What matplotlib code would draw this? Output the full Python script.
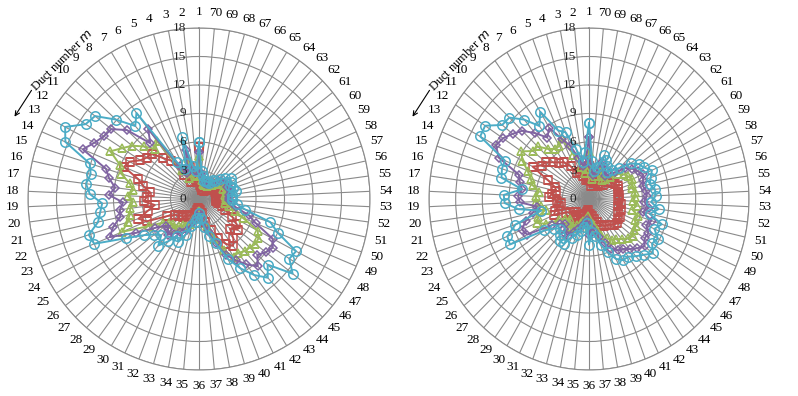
import numpy as np
import matplotlib
matplotlib.use("Agg")
import matplotlib.pyplot as plt

plt.rcParams['font.family'] = ['Liberation Serif', 'DejaVu Serif']

# duct numbers 1..70, values for four cases per chart
ducts = list(range(1, 71))
r_ticks = [0, 3, 6, 9, 12, 15, 18]

red_l = [5.5, 2, 2, 3.5, 2.5, 2, 3, 5.0, 5.7, 6.9, 7.0, 7.4, 8.3, 8.6, 6.7, 6.0, 5.2, 5.5, 5.8, 4.7,
         5.5, 6.7, 6.0, 3.8, 3.0, 2.8, 2.5, 2.5, 2.2, 2.0, 2.0, 1.8, 1.5, 1.2, 1.0, 1.0, 1.2, 1.5, 2.5, 3.5,
         4.6, 5.5, 6.1, 5.5, 4.5, 5.2, 4.7, 4.0, 3.0, 2.5, 2.0, 1.8, 1.8, 1.8, 1.8, 2.0, 2.0, 1.8, 2.0, 2.0,
         1.8, 1.5, 1.3, 1.3, 1.0, 1.0, 1.0, 1.0, 1.3, 1.5]
green_l = [4.5, 2.5, 2.5, 4.5, 3, 2.5, 3.5, 7.6, 7.0, 8.0, 9.0, 9.7, 10.6, 9.0, 8.6, 7.5, 7.0, 7.5, 7.0, 7.3,
           7.5, 7.9, 8.8, 6.0, 4.5, 4.0, 3.8, 4.0, 3.5, 3.2, 3.2, 2.8, 2.2, 1.8, 1.5, 1.3, 1.5, 2.0, 3.0, 4.5,
           6.0, 7.1, 7.0, 7.3, 7.4, 7.6, 7.5, 7.0, 5.0, 4.0, 3.2, 2.8, 2.8, 2.8, 2.8, 3.0, 3.0, 2.8, 3.0, 3.0,
           2.6, 2.4, 2.0, 2.0, 1.6, 1.6, 1.6, 1.6, 2.0, 2.4]
purple_l = [5, 3, 3, 5.3, 3.5, 3, 4, 9.1, 7.8, 10.5, 11.8, 12.0, 12.5, 13.3, 10.3, 9.7, 8.9, 9.5, 8.0, 8.4,
            8.5, 9.5, 10.2, 7.5, 5.5, 4.5, 4.5, 5.0, 4.5, 4.0, 4.0, 3.5, 2.5, 2.0, 1.8, 1.5, 1.8, 2.5, 3.5, 5.0,
            6.5, 7.5, 8.5, 9.4, 8.5, 9.0, 9.3, 8.8, 6.5, 5.5, 4.0, 3.5, 3.2, 3.2, 3.2, 3.5, 3.5, 3.2, 3.5, 3.5,
            3.0, 2.8, 2.2, 2.2, 1.8, 1.8, 1.8, 1.8, 2.2, 2.8]
cyan_l = [6, 3, 3.5, 6.8, 4, 3.5, 4.5, 11.2, 10.2, 12.1, 14.0, 14.3, 16.0, 15.3, 12.1, 11.7, 12.0, 11.5, 10.2, 10.5,
          10.9, 12.2, 12.0, 8.7, 6.9, 6.0, 5.5, 6.5, 5.5, 4.5, 5.0, 4.0, 3.0, 2.5, 2.0, 1.5, 2.0, 3.0, 4.0, 5.0,
          7.0, 8.5, 9.9, 11.0, 10.0, 12.6, 11.4, 11.6, 9.0, 7.9, 5.0, 4.0, 3.5, 3.5, 3.5, 4.0, 3.8, 3.5, 3.8, 4.0,
          3.5, 3.0, 2.5, 2.5, 2.0, 2.0, 2.0, 2.0, 2.5, 3.0]

red_r = [3.5, 2.2, 2.0, 2.5, 3.0, 3.0, 4.0, 4.8, 5.1, 5.6, 6.2, 6.4, 7.2, 5.0, 4.0, 3.8, 4.2, 4.5, 3.6, 3.2,
         3.5, 4.0, 4.3, 3.0, 2.5, 2.2, 2.0, 2.2, 2.4, 2.4, 2.0, 1.8, 1.6, 1.4, 1.2, 2.0, 1.6, 1.8, 2.2, 2.6,
         3.0, 3.3, 3.4, 3.6, 3.9, 4.1, 3.9, 3.9, 3.6, 3.8, 3.3, 3.6, 3.3, 3.4, 3.4, 3.3, 3.4, 3.5, 3.3, 3.1,
         2.8, 2.2, 1.9, 1.7, 1.9, 2.1, 2.3, 1.7, 1.4, 1.9]
green_r = [5, 3.2, 2.8, 3.5, 5.0, 7.1, 6.5, 6.5, 7.0, 8.0, 8.1, 9.1, 8.5, 7.5, 6.9, 6.5, 5.7, 6.0, 6.0, 5.5,
           5.0, 6.0, 6.4, 5.5, 4.0, 3.4, 3.0, 3.4, 3.6, 3.6, 3.0, 2.7, 2.4, 2.1, 1.8, 3.0, 2.4, 2.7, 3.4, 4.0,
           4.6, 5.0, 5.2, 5.6, 6.0, 6.3, 6.0, 6.0, 5.6, 5.8, 5.0, 5.4, 5.0, 5.2, 5.2, 5.0, 5.1, 5.3, 5.0, 4.7,
           4.2, 3.3, 2.8, 2.5, 2.8, 3.1, 3.4, 2.5, 2.1, 2.8]
purple_r = [6.5, 4, 3.5, 4.5, 6.0, 7.0, 8.7, 8.0, 9.2, 10.4, 11.0, 11.6, 11.9, 11.0, 8.3, 8.0, 7.6, 8.0, 7.8, 5.9,
            6.5, 7.5, 8.2, 7.9, 5.0, 4.2, 3.8, 4.2, 4.5, 4.5, 3.8, 3.4, 3.0, 2.6, 2.2, 3.8, 3.0, 3.4, 4.2, 5.0,
            5.8, 6.3, 6.5, 7.0, 7.5, 8.0, 7.5, 7.6, 7.0, 7.4, 6.2, 6.8, 6.2, 6.5, 6.5, 6.2, 6.4, 6.6, 6.2, 5.8,
            5.2, 4.1, 3.5, 3.0, 3.5, 3.9, 4.2, 3.0, 2.6, 3.5]
cyan_r = [8, 5, 4, 5.5, 7.5, 8, 10.7, 9.5, 11.1, 12.4, 12.5, 14.0, 13.9, 10.3, 10.3, 10.1, 7.6, 9.6, 9.5, 8.0,
          5.5, 8.7, 10.0, 10.1, 6.0, 5.0, 4.5, 5.0, 5.5, 5.5, 4.5, 4.0, 3.5, 3.0, 2.5, 4.8, 3.5, 4.0, 5.0, 6.0,
          7.0, 7.5, 7.5, 8.0, 8.5, 9.2, 8.5, 8.8, 8.0, 8.6, 7.0, 7.9, 7.0, 7.5, 7.5, 7.0, 7.3, 7.7, 7.0, 6.7,
          6.0, 4.7, 4.0, 3.5, 4.0, 4.5, 4.9, 3.5, 3.0, 4.0]

styles = [("#C0504D", "s", 6.0), ("#9BBB59", "^", 6.0), ("#8064A2", "D", 4.5), ("#4BACC6", "o", 6.8)]


def draw_radar(ax, series):
    theta = np.deg2rad((np.array(ducts) - 1) * 360.0 / len(ducts))
    ax.set_theta_zero_location('N')
    ax.set_theta_direction(1)
    for vals, (col, mk, ms) in zip(series, styles):
        t = np.append(theta, theta[0])
        v = np.append(vals, vals[0])
        ax.plot(t, v, color=col, lw=1.4, marker=mk, ms=ms, mfc='none', mec=col, mew=1.1)
    ax.set_ylim(0, 18)
    ax.set_yticks(r_ticks)
    ax.set_yticklabels([])
    ax.set_xticks(theta)
    ax.set_xticklabels([str(d) for d in ducts], fontsize=9.5)
    ax.tick_params(axis='x', pad=1)
    ax.grid(True, color='#8a8a8a', lw=0.8)
    ax.spines['polar'].set_color('#8a8a8a')
    ax.spines['polar'].set_linewidth(0.8)
    for r in r_ticks:
        ax.annotate(str(r), xy=(0, r), xytext=(-9, 0), textcoords='offset points',
                    ha='right', va='center', fontsize=9.5, color='#222222')


fig = plt.figure(figsize=(7.98, 3.96), dpi=100)
ax1 = fig.add_axes([28 / 798, 26 / 396, 342 / 798, 342 / 396], projection='polar')
ax2 = fig.add_axes([429 / 798, 26 / 396, 320 / 798, 342 / 396], projection='polar')
draw_radar(ax1, [red_l, green_l, purple_l, cyan_l])
draw_radar(ax2, [red_r, green_r, purple_r, cyan_r])
ax2.set_aspect('auto')

# "Duct number m" label with arrow on each chart
for dx in [0, 398]:
    fig.text((62 + dx) / 798, 1 - 60 / 396, r"Duct number $\it{m}$", rotation=45,
             ha='center', va='center', fontsize=9)
    fig.add_artist(matplotlib.patches.FancyArrowPatch(
        ((33 + dx) / 798, 1 - 88 / 396), ((13 + dx) / 798, 1 - 119 / 396),
        transform=fig.transFigure, arrowstyle='->', mutation_scale=8, lw=0.8, color='black'))

fig.savefig("out.png", dpi=100)
